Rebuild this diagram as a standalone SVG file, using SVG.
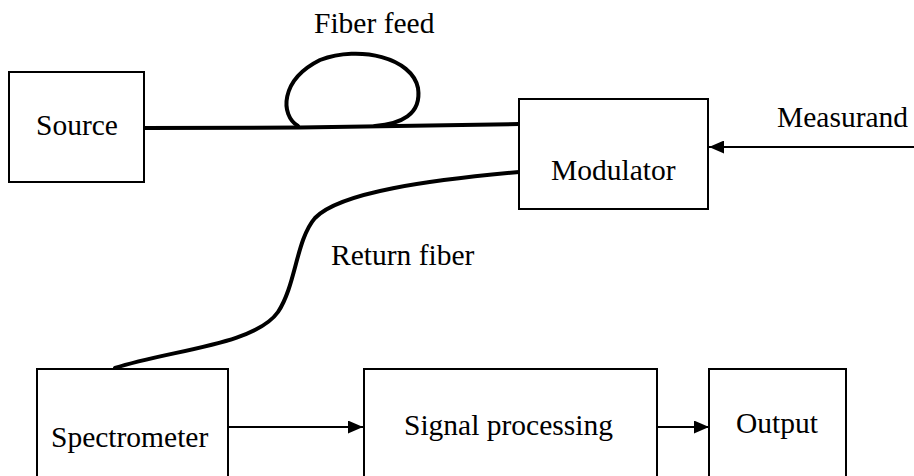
<svg xmlns="http://www.w3.org/2000/svg" width="914" height="476" viewBox="0 0 914 476">
<style>
.box{fill:#fff;stroke:#000;stroke-width:2}
.t{font-family:"Liberation Serif","Times New Roman",serif;font-size:29.5px;fill:#000}
.fiber{fill:none;stroke:#000;stroke-width:4;stroke-linecap:round}
.arr{fill:none;stroke:#000;stroke-width:2;marker-end:url(#ah)}
</style>
<defs>
<marker id="ah" markerWidth="15" markerHeight="13" refX="15" refY="6.5" orient="auto" markerUnits="userSpaceOnUse">
<path d="M0,0 L15,6.5 L0,13 Z" fill="#000"/>
</marker>
</defs>
<rect width="914" height="476" fill="#fff"/>
<g id="connectors">
<path class="fiber" d="M144 128 L300 127.5 L519 124"/>
<path class="fiber" d="M298 126 C280 115 280 80 320 60 C360 45 412 58 418 88 C422 115 400 124 375 126"/>
<path class="fiber" d="M519 172 C430 180 340 192 315 218 C296 240 296 285 278 312 C255 345 170 350 115 368"/>
<path class="arr" d="M914 147 L709 147"/>
<path class="arr" d="M229 427 L363 427"/>
<path class="arr" d="M657 427 L709 427"/>
<text class="t" x="314" y="33">Fiber feed</text>
<text class="t" x="331" y="265">Return fiber</text>
<text class="t" x="777" y="127">Measurand</text>
</g>
<g id="source">
<rect class="box" x="9" y="72" width="135" height="110"/>
<text class="t" x="36" y="135">Source</text>
</g>
<g id="modulator">
<rect class="box" x="519" y="99" width="189" height="110"/>
<text class="t" x="551" y="180">Modulator</text>
</g>
<g id="spectrometer">
<rect class="box" x="37" y="369" width="191" height="120"/>
<text class="t" x="51" y="447">Spectrometer</text>
</g>
<g id="signal">
<rect class="box" x="364" y="369" width="293" height="120"/>
<text class="t" x="404" y="435">Signal processing</text>
</g>
<g id="output">
<rect class="box" x="709" y="369" width="137" height="120"/>
<text class="t" x="736" y="433">Output</text>
</g>
</svg>
